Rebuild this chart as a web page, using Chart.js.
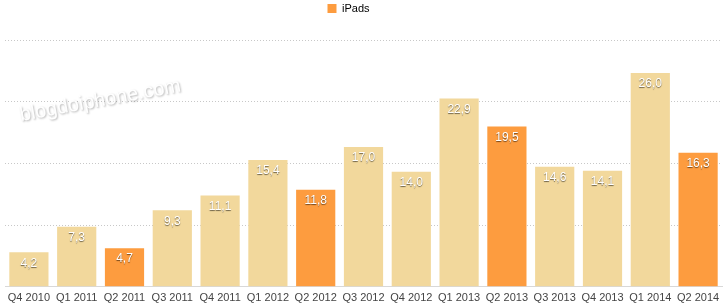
<!DOCTYPE html>
<html><head><meta charset="utf-8">
<script src="https://cdn.jsdelivr.net/npm/chart.js@4"></script>
<style>html,body{margin:0;padding:0;background:#fff}#wrap{width:726px;height:307px}</style>
</head><body><div id="wrap"><canvas id="c"></canvas></div>
<script>
const categories = ["Q4 2010","Q1 2011","Q2 2011","Q3 2011","Q4 2011","Q1 2012","Q2 2012","Q3 2012","Q4 2012","Q1 2013","Q2 2013","Q3 2013","Q4 2013","Q1 2014","Q2 2014"];
const ipads = [4.2,7.3,4.7,9.3,11.1,15.4,11.8,17.0,14.0,22.9,19.5,14.6,14.1,26.0,16.3];
const seriesName = "iPads";
const watermark = "blogdoiphone.com";

const ORANGE = "#fd9c3f", TAN = "#f2d89c";
const barColors = categories.map(c => c.startsWith("Q2") ? ORANGE : TAN);
const FONT = '"Liberation Sans", Arial, sans-serif';

const labelPlugin = {
  id: 'labels',
  afterDatasetsDraw(chart) {
    const ctx = chart.ctx;
    const meta = chart.getDatasetMeta(0);
    ctx.save();
    ctx.font = '12px ' + FONT;
    ctx.textAlign = 'center';
    ctx.textBaseline = 'middle';
    ctx.shadowColor = 'rgba(0,0,0,0.55)';
    ctx.shadowOffsetX = 0; ctx.shadowOffsetY = 1; ctx.shadowBlur = 1;
    ctx.fillStyle = '#fff';
    meta.data.forEach((bar, i) => {
      ctx.fillText(ipads[i].toFixed(1).replace('.', ','), bar.x, bar.y + 11);
    });
    ctx.restore();
  }
};
const wmPlugin = {
  id: 'wm',
  afterDraw(chart) {
    const ctx = chart.ctx;
    ctx.save();
    ctx.translate(21, 121);
    ctx.rotate(-10.5 * Math.PI / 180);
    ctx.font = '20px ' + FONT;
    ctx.textAlign = 'left';
    ctx.textBaseline = 'alphabetic';
    ctx.shadowColor = 'rgba(0,0,0,0.3)';
    ctx.shadowOffsetX = 1; ctx.shadowOffsetY = 1; ctx.shadowBlur = 2;
    ctx.fillStyle = 'rgba(255,255,255,0.97)';
    ctx.fillText(watermark, 0, 0);
    ctx.restore();
  }
};
const legendFix = {
  id: 'legendFix',
  beforeLayout(chart) {
    const lg = chart.legend;
    if (lg && !lg._patched) {
      const orig = lg.fit;
      lg.fit = function () { orig.call(this); this.height += 16; };
      lg._patched = true;
    }
  },
  afterLayout(chart) {
    if (chart.legend) chart.legend.right -= 30;
  }
};

new Chart(document.getElementById('c'), {
  type: 'bar',
  data: { labels: categories, datasets: [{ label: seriesName, data: ipads, backgroundColor: barColors, borderWidth: 0,
    categoryPercentage: 1, barPercentage: 0.82 }] },
  options: {
    responsive: true, maintainAspectRatio: false, animation: false,
    layout: { padding: { left: 5, right: 4, top: 0, bottom: -3 } },
    plugins: {
      legend: {
        display: true, position: 'top',
        labels: {
          boxWidth: 9, boxHeight: 9, padding: 3,
          color: '#555', font: { size: 11, family: FONT },
          generateLabels: () => [{ text: seriesName, fillStyle: ORANGE, strokeStyle: ORANGE, lineWidth: 0, hidden: false, datasetIndex: 0 }]
        }
      },
      tooltip: { enabled: false }
    },
    scales: {
      x: {
        grid: { display: false, drawTicks: false },
        border: { display: true, color: '#d8d8d8', width: 1 },
        ticks: { color: '#444', font: { size: 11, family: FONT }, padding: 5, maxRotation: 0, autoSkip: false }
      },
      y: {
        min: 0, max: 30,
        ticks: { display: false, stepSize: 7.5 },
        border: { display: false, dash: [1, 2] },
        grid: { drawTicks: false, color: ctx => ctx.tick && ctx.tick.value === 0 ? 'rgba(0,0,0,0)' : '#c8c8c8', lineWidth: 1 }
      }
    }
  },
  plugins: [labelPlugin, wmPlugin, legendFix]
});
</script></body></html>
